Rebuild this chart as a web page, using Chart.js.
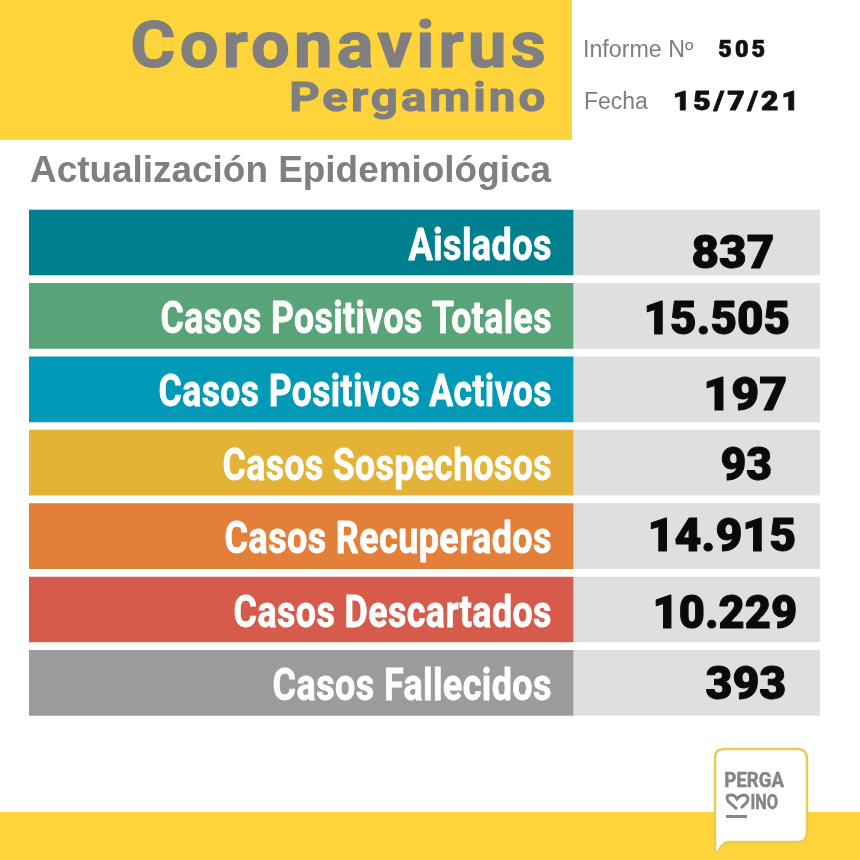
<!DOCTYPE html>
<html lang="es">
<head>
<meta charset="utf-8">
<title>Coronavirus Pergamino</title>
<style>html,body{margin:0;padding:0;background:#fff}canvas{display:block}</style>
<script src="https://cdn.jsdelivr.net/npm/chart.js@4/dist/chart.umd.min.js"></script>
</head>
<body>
<canvas id="c" width="860" height="860"></canvas>
<script>
const categories = ['Aislados','Casos Positivos Totales','Casos Positivos Activos','Casos Sospechosos','Casos Recuperados','Casos Descartados','Casos Fallecidos'];
const valueLabels = ['837','15.505','197','93','14.915','10.229','393'];
const labelBand = [544,544,544,544,544,544,544];
const valueBand = [247,247,247,247,247,247,247];
const bandColors = ['#007F8E','#59A379','#0099B8','#E3B236','#E47F3A','#D65B4A','#9B9B9B'];
const panelColor = '#DFDEE1';

// Text placement (separate from the data)
const labelLeft = [408,161,159,223,225,234,273];
const valueLeft = [692,646,706,721,650,655,706];
const valueRight = [773,789,786,771,795,796,785];
const valueShift = [25,18,21,17,15,18,16];

const YELLOW = '#FFD43A', GREY = '#7F7E81';

function fit(ctx, text, left, right, base, font, color, spacing, thick) {
  ctx.save();
  ctx.font = font;
  ctx.fillStyle = color;
  ctx.strokeStyle = color;
  ctx.lineJoin = 'round';
  ctx.textAlign = 'left';
  ctx.textBaseline = 'alphabetic';
  ctx.letterSpacing = (spacing || 0) + 'px';
  const m = ctx.measureText(text);
  const t = thick || 0;
  const w = m.actualBoundingBoxRight + m.actualBoundingBoxLeft;
  const sx = (right - left - t) / w;
  ctx.translate(left + t / 2 + m.actualBoundingBoxLeft * sx, base);
  ctx.scale(sx, 1);
  if (t) { ctx.lineWidth = t; ctx.strokeText(text, 0, 0); }
  ctx.fillText(text, 0, 0);
  ctx.restore();
}

const page = {
  id: 'page',
  beforeDatasetsDraw(chart) {
    const ctx = chart.ctx;
    ctx.save();
    ctx.fillStyle = YELLOW;
    ctx.fillRect(0, 0, 572, 140);
    ctx.fillRect(0, 812, 860, 48);
    ctx.restore();
  },
  afterDatasetsDraw(chart) {
    const ctx = chart.ctx;
    fit(ctx, 'Coronavirus', 132, 545, 67, '700 65px Roboto', GREY, 4, 1.2);
    fit(ctx, 'Pergamino', 291, 545, 111, '700 40px Roboto', GREY, 2.5, 1);
    fit(ctx, 'Actualización Epidemiológica', 30, 552, 182, '700 36px "Liberation Sans"', GREY);
    fit(ctx, 'Informe Nº', 585, 694, 57, '400 23px "Liberation Sans"', '#7E7D80');
    fit(ctx, '505', 718, 765, 57, '900 23px Roboto', '#111', 3, 0.6);
    fit(ctx, 'Fecha', 585, 648, 109, '400 23px "Liberation Sans"', '#7E7D80');
    fit(ctx, '15/7/21', 675, 795, 110, '900 25px Roboto', '#111', 2.5, 0.8);

    const bars = chart.getDatasetMeta(0).data;
    bars.forEach((bar, i) => {
      fit(ctx, categories[i], labelLeft[i], 551, bar.y + 17, '700 45px Roboto', '#FFFFFF', 0.5, 0.8);
      fit(ctx, valueLabels[i], valueLeft[i], valueRight[i], bar.y + valueShift[i], '900 46px Roboto', '#0A0A0A', 0, 1);
    });

    // Logo
    ctx.save();
    ctx.beginPath();
    ctx.moveTo(724, 749);
    ctx.lineTo(797, 749);
    ctx.quadraticCurveTo(807, 749, 807, 759);
    ctx.lineTo(807, 832);
    ctx.quadraticCurveTo(807, 842, 797, 842);
    ctx.lineTo(728, 842);
    ctx.quadraticCurveTo(722, 843, 718, 852);
    ctx.lineTo(715, 852);
    ctx.lineTo(715, 758);
    ctx.quadraticCurveTo(715, 749, 724, 749);
    ctx.closePath();
    ctx.fillStyle = '#FFFFFF';
    ctx.fill();
    ctx.lineWidth = 2.5;
    ctx.strokeStyle = '#EBCB58';
    ctx.stroke();
    ctx.strokeStyle = '#858488';
    ctx.lineWidth = 3;
    ctx.beginPath();
    ctx.moveTo(737, 809);
    ctx.lineTo(728, 801);
    ctx.quadraticCurveTo(725, 795, 731, 795);
    ctx.quadraticCurveTo(735, 795, 737, 799);
    ctx.quadraticCurveTo(740, 795, 744, 795);
    ctx.quadraticCurveTo(750, 796, 747, 802);
    ctx.lineTo(741, 808);
    ctx.stroke();
    ctx.fillStyle = '#858488';
    ctx.fillRect(726, 815, 21, 3);
    ctx.restore();
    fit(ctx, 'PERGA', 725, 785, 787, '700 21px Roboto', '#858488', 0, 0.5);
    fit(ctx, 'INO', 751, 778, 809, '700 21px Roboto', '#858488', 0, 0.5);
  }
};

new Chart(document.getElementById('c'), {
  type: 'bar',
  data: {
    labels: categories,
    datasets: [
      { data: labelBand, backgroundColor: bandColors, borderWidth: 0, barThickness: 65 },
      { data: valueBand, backgroundColor: panelColor, borderWidth: 0, barThickness: 65 }
    ]
  },
  options: {
    indexAxis: 'y',
    responsive: false,
    devicePixelRatio: 1,
    animation: false,
    layout: { padding: { left: 29, right: 40, top: 205.8, bottom: 140.4 } },
    plugins: { legend: { display: false }, tooltip: { enabled: false }, title: { display: false } },
    scales: {
      x: { stacked: true, min: 0, max: 791, display: false },
      y: { stacked: true, display: false }
    }
  },
  plugins: [page]
});
</script>
</body>
</html>
